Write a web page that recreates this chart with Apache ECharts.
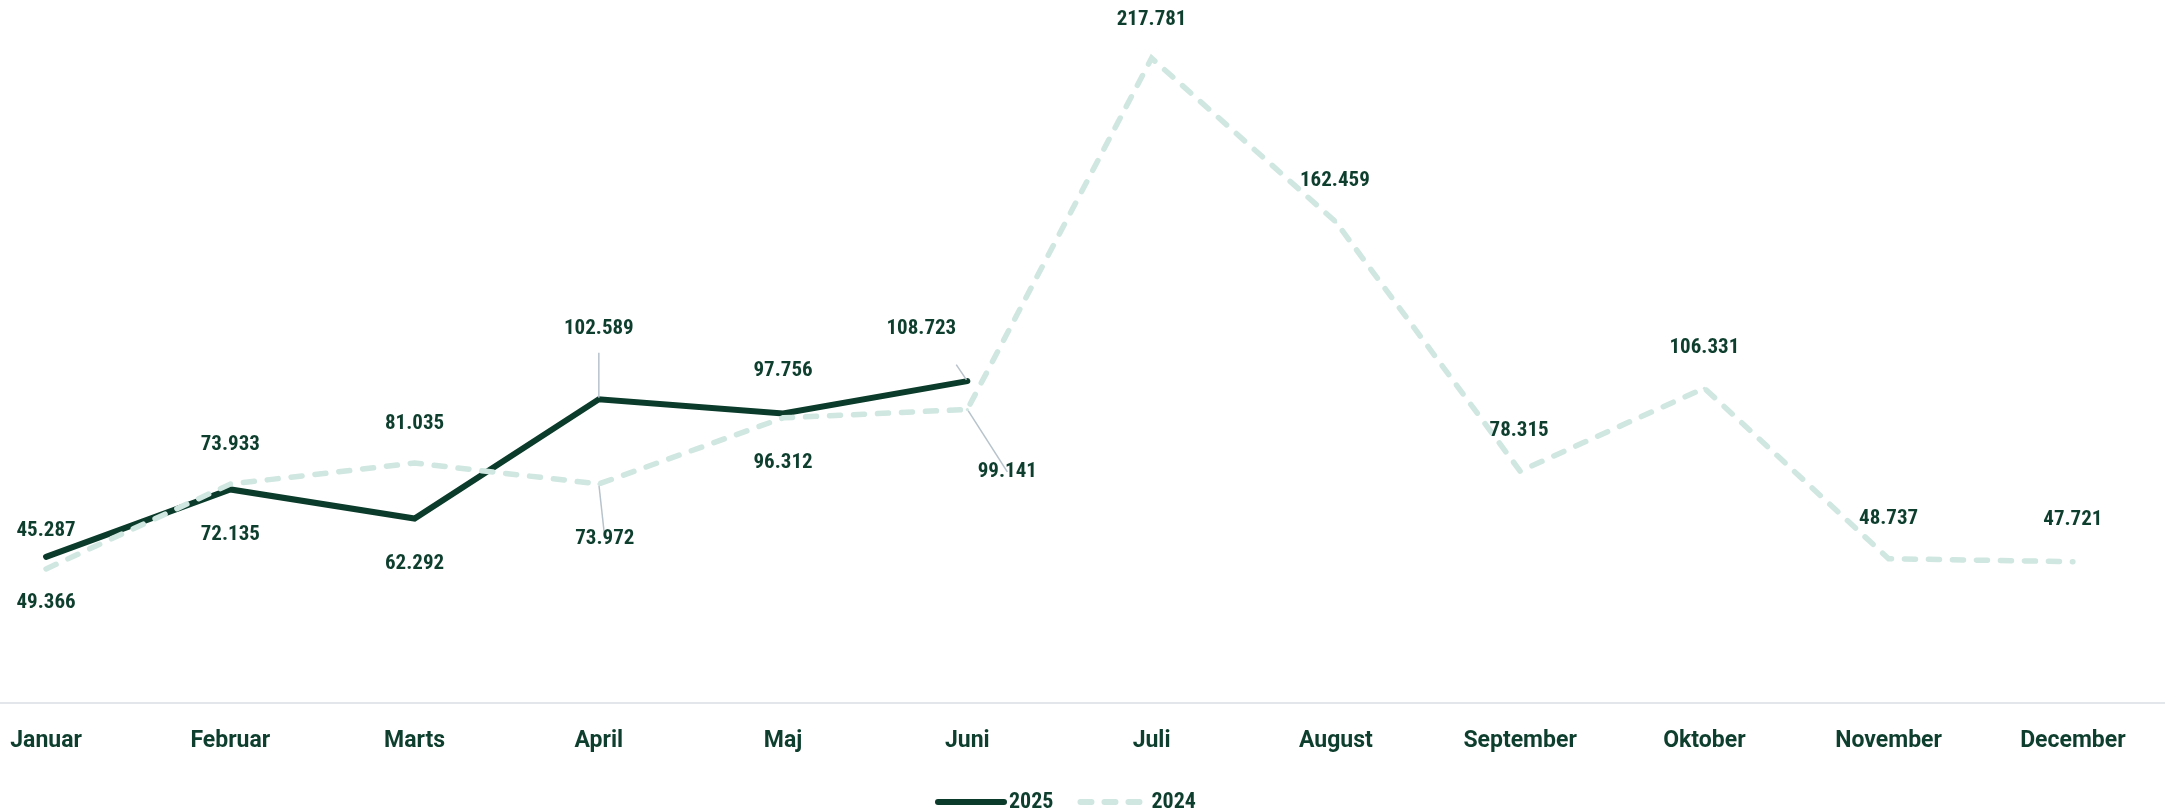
<!DOCTYPE html>
<html>
<head>
<meta charset="utf-8">
<script src="https://cdn.jsdelivr.net/npm/echarts@6/dist/echarts.min.js"></script>
<style>
  html, body { margin: 0; padding: 0; background: #ffffff; }
  #chart { width: 2165px; height: 811px; }
</style>
</head>
<body>
<div id="chart"></div>
<script>
// ---- data ----
var months = ['Januar', 'Februar', 'Marts', 'April', 'Maj', 'Juni', 'Juli', 'August', 'September', 'Oktober', 'November', 'December'];
var series2025Name = '2025';
var series2024Name = '2024';
var values2025 = [49366, 72135, 62292, 102589, 97756, 108723];
var values2024 = [45287, 73933, 81035, 73972, 96312, 99141, 217781, 162459, 78315, 106331, 48737, 47721];

// ---- label placement (style only) ----
var place2025 = [['bottom', 0, 0, false], ['bottom', 0, 0, false], ['bottom', 0, 0, false], ['top', 0, -31, true], ['top', 0, -3, false], ['top', -46, -13, true]];
var place2024 = [['top', 0, 1, false], ['top', 0, 0, false], ['top', 0, 0, false], ['bottom', 6, 9, true], ['bottom', 0, -1, false], ['bottom', 40, 17, true], ['top', 0, 1, false], ['top', -1, -2, false], ['top', -1, -1, false], ['top', 0, -1, false], ['top', 0, 0, false], ['top', 0, -2, false]];

var TEXT = '#0e3f2e';
var DARK = '#0b3b2a';
var MINT = '#cfe7e0';
var NUMFONT = "'Roboto Condensed', 'Open Sans Condensed', Roboto, sans-serif";
var AXFONT = "Roboto, 'Liberation Sans', sans-serif";

function fmt(v) {
  var s = String(Math.round(v));
  return s.replace(/\B(?=(\d{3})+(?!\d))/g, '.');
}

function buildData(values, place) {
  return values.map(function (v, i) {
    var p = place[i];
    return {
      value: [i, v],
      label: { position: p[0], distance: p[0] === 'top' ? 26 : 32, offset: [p[1], p[2]] },
      labelLine: { show: p[3] }
    };
  });
}

var labelBase = {
  show: true,
  color: TEXT,
  fontFamily: NUMFONT,
  fontWeight: 'bold',
  fontSize: 21,
  lineHeight: 24,
  formatter: function (p) { return fmt(p.value[1]); }
};
var labelLineBase = {
  show: false,
  lineStyle: { color: '#b7c3cb', width: 1.5 }
};

var chart = echarts.init(document.getElementById('chart'), null, { renderer: 'canvas' });
chart.setOption({
  animation: false,
  backgroundColor: '#ffffff',
  grid: { left: 0, right: 0, top: 22, bottom: 108, containLabel: false, outerBoundsMode: 'none' },
  legend: {
    left: 930,
    top: 786,
    itemWidth: 66,
    itemHeight: 22,
    itemGap: 24,
    itemStyle: { opacity: 0 },
    lineStyle: { width: 6, cap: 'round' },
    textStyle: { color: TEXT, fontFamily: NUMFONT, fontWeight: 'bold', fontSize: 22, padding: [0, 0, 0, 0] },
    data: [series2025Name, series2024Name]
  },
  xAxis: {
    type: 'value',
    min: -0.25,
    max: 11.5,
    axisLine: { show: true, lineStyle: { color: '#e3e7eb', width: 2 } },
    axisTick: { show: false },
    splitLine: { show: false },
    axisLabel: {
      customValues: months.map(function (m, i) { return i; }),
      formatter: function (v) { return months[Math.round(v)]; },
      color: TEXT,
      fontFamily: AXFONT,
      fontWeight: 'bold',
      fontSize: 23,
      margin: 27
    }
  },
  yAxis: {
    type: 'value',
    min: 0,
    max: 230000,
    show: false,
    splitLine: { show: false }
  },
  series: [
    {
      name: series2025Name,
      type: 'line',
      data: buildData(values2025, place2025),
      symbol: 'circle',
      symbolSize: 3,
      itemStyle: { color: DARK },
      lineStyle: { color: DARK, width: 6, cap: 'round', join: 'miter' },
      label: labelBase,
      labelLine: labelLineBase,
      emphasis: { disabled: true },
      z: 2
    },
    {
      name: series2024Name,
      type: 'line',
      data: buildData(values2024, place2024),
      symbol: 'circle',
      symbolSize: 3,
      itemStyle: { color: MINT },
      lineStyle: { color: MINT, width: 5.5, type: [11, 13], cap: 'round', join: 'miter' },
      label: labelBase,
      labelLine: labelLineBase,
      emphasis: { disabled: true },
      z: 3
    }
  ]
});
</script>
</body>
</html>
